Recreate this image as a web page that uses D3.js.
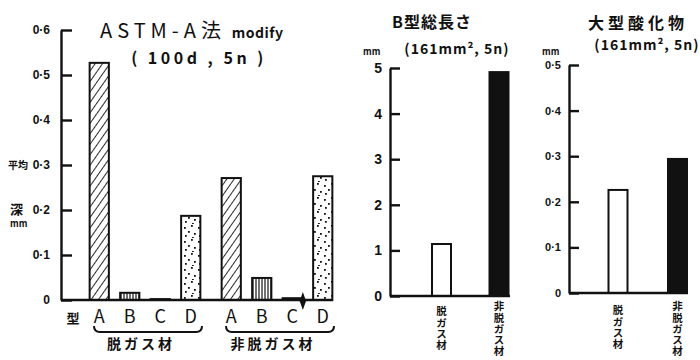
<!DOCTYPE html>
<html>
<head>
<meta charset="utf-8">
<script src="https://cdn.jsdelivr.net/npm/d3@7"></script>
<style>
  body { margin: 0; background: #fff; }
  svg { display: block; }
  text { font-family: "Noto Sans CJK JP", "Noto Sans", sans-serif; fill: #111; }
  .tick text { font-weight: 700; font-family: "Liberation Sans", sans-serif; }
</style>
</head>
<body>
<svg id="canvas" width="700" height="360"></svg>
<script>
// ---- data ----
let groups = ['脱ガス材', '非脱ガス材'];
let types = ['A', 'B', 'C', 'D'];
// ASTM-A法 modify, values per group in order A,B,C,D
let astmDegassed = [0.527, 0.016, 0.002, 0.187];
let astmNonDegassed = [0.271, 0.049, 0.004, 0.275];
let astmTicks = [0, 0.1, 0.2, 0.3, 0.4, 0.5, 0.6];
let astmTickLabels = ['0', '0·1', '0·2', '0·3', '0·4', '0·5', '0·6'];

let bLengthCats = ['脱ガス材', '非脱ガス材'];
let bLength = [1.14, 4.91];
let bTicks = [0, 1, 2, 3, 4, 5];

let oxideCats = ['脱ガス材', '非脱ガス材'];
let oxide = [0.226, 0.294];
let oxideTicks = [0, 0.1, 0.2, 0.3, 0.4, 0.5];
let oxideTickLabels = ['0', '0·1', '0·2', '0·3', '0·4', '0·5'];

let canvas = d3.select('#canvas');
let ink = '#111';

// ---- patterns ----
let defs = canvas.append('defs');
let hatch = defs.append('pattern').attr('id', 'hatch')
  .attr('patternUnits', 'userSpaceOnUse').attr('width', 6).attr('height', 6)
  .attr('patternTransform', 'rotate(35)');
hatch.append('line').attr('x1', 0).attr('y1', 0).attr('x2', 0).attr('y2', 6)
  .attr('stroke', ink).attr('stroke-width', 1.8);

let vlines = defs.append('pattern').attr('id', 'vlines')
  .attr('patternUnits', 'userSpaceOnUse').attr('width', 3).attr('height', 3);
vlines.append('line').attr('x1', 1).attr('y1', 0).attr('x2', 1).attr('y2', 3)
  .attr('stroke', ink).attr('stroke-width', 1.2);

let dots = defs.append('pattern').attr('id', 'dots')
  .attr('patternUnits', 'userSpaceOnUse').attr('width', 14).attr('height', 14);
[[2, 3], [9, 1], [6, 7], [12, 9], [3, 11], [10, 13]].forEach(p => {
  dots.append('rect').attr('x', p[0]).attr('y', p[1]).attr('width', 1.8).attr('height', 1.8).attr('fill', ink);
});
let fillFor = { A: 'url(#hatch)', B: 'url(#vlines)', C: '#fff', D: 'url(#dots)' };

// ================= panel 1: ASTM-A法 modify =================
let y1 = d3.scaleLinear().domain([0, 0.6]).range([300, 30]);
let xGroup = d3.scaleBand().domain(groups).range([84, 338]).paddingInner(10 / 132).paddingOuter(0);
let xType = d3.scaleBand().domain(types).range([0, xGroup.bandwidth()]).paddingInner(0.37).paddingOuter(0.185);

let p1 = canvas.append('g');
let axis1 = d3.axisLeft(y1).tickValues(astmTicks)
  .tickFormat((d, i) => astmTickLabels[i]).tickSizeInner(-11).tickSizeOuter(0).tickPadding(11);
p1.append('g').attr('transform', 'translate(61,0)').call(axis1)
  .call(g => g.selectAll('path,line').attr('stroke', ink).attr('stroke-width', 2.4))
  .call(g => g.selectAll('text').attr('font-size', 12));

let astmRows = [];
groups.forEach((g, gi) => {
  let vals = gi === 0 ? astmDegassed : astmNonDegassed;
  types.forEach((t, ti) => astmRows.push({ group: g, type: t, value: vals[ti] }));
});

p1.selectAll('rect.bar').data(astmRows).enter().append('rect')
  .attr('class', 'bar')
  .attr('x', d => xGroup(d.group) + xType(d.type))
  .attr('width', xType.bandwidth())
  .attr('y', d => y1(d.value))
  .attr('height', d => y1(0) - y1(d.value))
  .attr('fill', d => fillFor[d.type])
  .attr('stroke', ink).attr('stroke-width', 2);

// marker on the non-degassed C bar
let c2 = astmRows.find(d => d.group === groups[1] && d.type === 'C');
let cx2 = xGroup(c2.group) + xType(c2.type) + xType.bandwidth() + 1;
p1.append('path')
  .attr('d', d3.symbol().type(d3.symbolDiamond).size(55))
  .attr('transform', `translate(${cx2},${y1(0) + 1}) scale(0.8,1.3)`)
  .attr('fill', ink);

// baseline
p1.append('line').attr('x1', 61).attr('x2', 333).attr('y1', y1(0)).attr('y2', y1(0))
  .attr('stroke', ink).attr('stroke-width', 2.4);

// category labels
p1.append('text').attr('x', 73).attr('y', 323).attr('text-anchor', 'middle')
  .attr('font-size', 13).attr('font-weight', 700).text('型');
p1.selectAll('text.cat').data(astmRows).enter().append('text')
  .attr('class', 'cat')
  .attr('x', d => xGroup(d.group) + xType(d.type) + xType.bandwidth() / 2)
  .attr('y', 323).attr('text-anchor', 'middle')
  .attr('font-size', 18).attr('font-family', 'Liberation Sans, sans-serif')
  .text(d => d.type);

// braces and group labels
groups.forEach(g => {
  let x0 = xGroup(g) + 10, x1 = xGroup(g) + xGroup.bandwidth() - 4;
  p1.append('path')
    .attr('d', `M${x0},326 Q${x0},332 ${x0 + 6},332 L${x1 - 6},332 Q${x1},332 ${x1},326`)
    .attr('fill', 'none').attr('stroke', ink).attr('stroke-width', 2);
  p1.append('text').attr('x', xGroup(g) + xGroup.bandwidth() / 2 - 4).attr('y', 349)
    .attr('text-anchor', 'middle').attr('font-size', 14).attr('font-weight', 700)
    .attr('letter-spacing', 3).text(g);
});

// titles
p1.append('text').attr('x', 100).attr('y', 38).attr('font-size', 20)
  .attr('letter-spacing', 5).text('ASTM-A法')
  .append('tspan').attr('font-size', 14).attr('font-weight', 700).attr('letter-spacing', 0.5).attr('dx', 2).text(' modify');
p1.append('text').attr('x', 199).attr('y', 64).attr('text-anchor', 'middle')
  .attr('font-size', 16).attr('font-weight', 700).attr('letter-spacing', 3.5).text('( 100d , 5n )');

// y title
p1.append('text').attr('x', 8).attr('y', 169).attr('font-size', 10).attr('font-weight', 700).text('平均');
p1.append('text').attr('x', 10).attr('y', 214).attr('font-size', 13).attr('font-weight', 700).text('深');
p1.append('text').attr('x', 10).attr('y', 227).attr('font-size', 9).attr('font-weight', 700).text('mm');

// ================= small panels =================
function smallPanel(opts) {
  let g = canvas.append('g');
  let y = d3.scaleLinear().domain(opts.domain).range([opts.y0, opts.yTop]);
  let x = d3.scalePoint().domain(opts.cats).range(opts.centers);
  let axis = d3.axisLeft(y).tickValues(opts.ticks)
    .tickFormat((d, i) => opts.tickLabels[i]).tickSizeInner(-10).tickSizeOuter(0).tickPadding(opts.pad);
  g.append('g').attr('transform', `translate(${opts.axisX},0)`).call(axis)
    .call(a => a.selectAll('path,line').attr('stroke', ink).attr('stroke-width', 2.4))
    .call(a => a.selectAll('text').attr('font-size', opts.tickFont));

  g.selectAll('rect').data(opts.values).enter().append('rect')
    .attr('x', (d, i) => x(opts.cats[i]) - 9.5)
    .attr('width', 19)
    .attr('y', d => y(d))
    .attr('height', d => y(0) - y(d))
    .attr('fill', (d, i) => i === 0 ? '#fff' : ink)
    .attr('stroke', ink).attr('stroke-width', 2);

  g.append('line').attr('x1', opts.axisX).attr('x2', opts.baseEnd)
    .attr('y1', y(0)).attr('y2', y(0)).attr('stroke', ink).attr('stroke-width', 2.4);

  // vertical category labels
  g.selectAll('text.vcat').data(opts.cats).enter().append('text')
    .attr('class', 'vcat')
    .attr('writing-mode', 'vertical-rl')
    .attr('x', d => x(d)).attr('y', (d, i) => opts.labelY[i])
    .attr('font-size', 10.5).attr('font-weight', 700).attr('letter-spacing', 0.8)
    .text(d => d);

  g.append('text').attr('x', opts.unitX).attr('y', opts.unitY).attr('font-size', 9)
    .attr('font-weight', 700).text('mm');
  g.append('text').attr('x', opts.titleX).attr('y', opts.titleY).attr('text-anchor', 'middle')
    .attr('font-size', 16).attr('font-weight', 700).attr('letter-spacing', opts.titleSpacing).text(opts.title);
  g.append('text').attr('x', opts.subX).attr('y', opts.subY).attr('text-anchor', 'middle')
    .attr('font-size', 14).attr('font-weight', 700).attr('letter-spacing', 1).text(opts.sub);
}

smallPanel({
  domain: [0, 5], y0: 296, yTop: 68, axisX: 390, baseEnd: 510,
  ticks: bTicks, tickLabels: bTicks.map(String), pad: 8, tickFont: 14,
  cats: bLengthCats, values: bLength, centers: [441.5, 499],
  labelY: [306, 301],
  unitX: 363, unitY: 55,
  title: 'B型総長さ', titleSpacing: 1, titleX: 432, titleY: 28,
  sub: '(161mm², 5n)', subX: 457, subY: 54
});

smallPanel({
  domain: [0, 0.5], y0: 293, yTop: 65, axisX: 569, baseEnd: 688,
  ticks: oxideTicks, tickLabels: oxideTickLabels, pad: 8, tickFont: 11,
  cats: oxideCats, values: oxide, centers: [618, 677.5],
  labelY: [305, 301],
  unitX: 542, unitY: 55,
  title: '大型酸化物', titleSpacing: 4, titleX: 638, titleY: 29,
  sub: '(161mm², 5n)', subX: 647, subY: 50
});
</script>
</body>
</html>
